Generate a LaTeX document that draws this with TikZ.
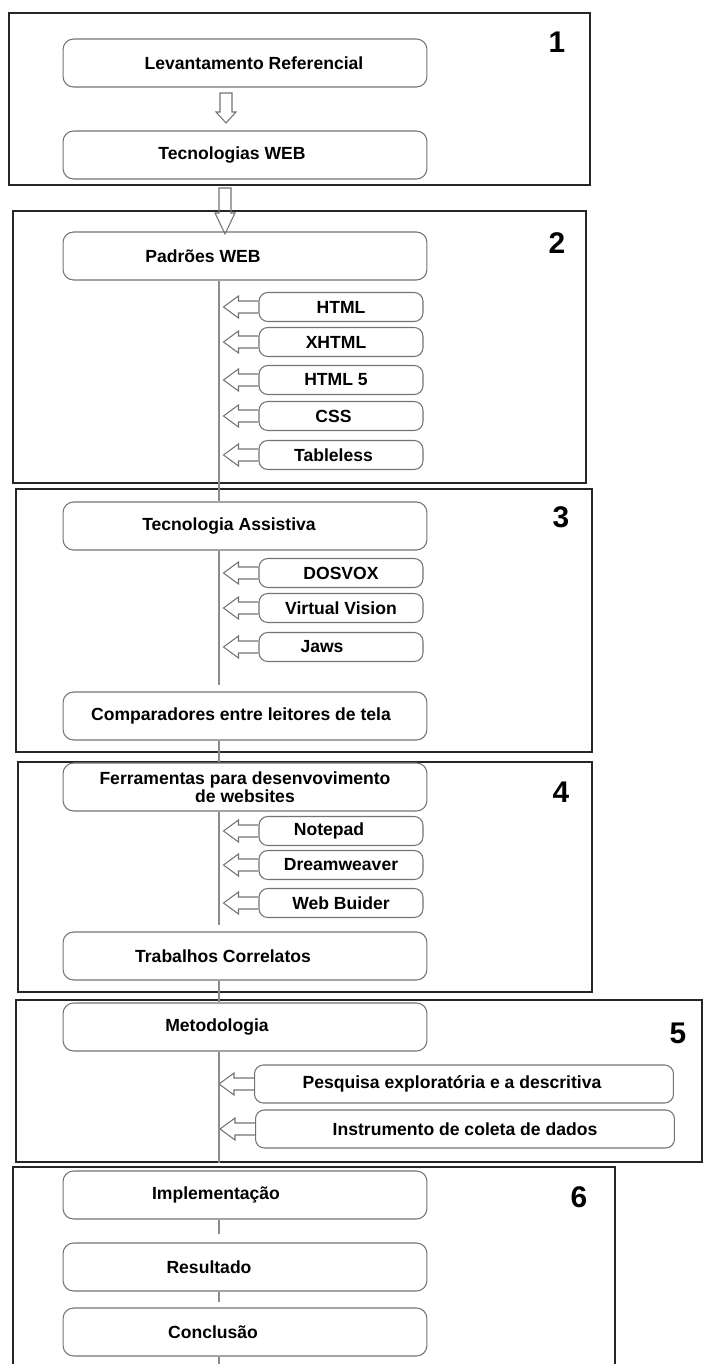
\documentclass[tikz,border=0pt]{standalone}
\usepackage{fontspec}
\setmainfont{Liberation Sans}

\tikzset{
  frame/.style={draw=black!85, line width=1.1pt},
  bigbox/.style={draw=black!55, line width=0.6pt, rounded corners=6pt, minimum width=7.28cm, minimum height=0.96cm, font=\fontsize{10}{10.5}\selectfont\bfseries},
  smallbox/.style={draw=black!55, line width=0.6pt, rounded corners=5pt, minimum width=3.28cm, minimum height=0.58cm, inner sep=0pt, font=\fontsize{10}{12}\selectfont\bfseries},
  widebox/.style={smallbox, minimum width=8.38cm, minimum height=0.76cm},
  nudge/.style={execute at begin node={\hspace*{#1}}},
  arrowline/.style={draw=black!55, line width=0.6pt, line join=miter},
  spine/.style={draw=black!45, line width=0.6pt},
  num/.style={font=\fontsize{17}{20}\selectfont\bfseries},
  pics/leftarrow/.style={code={
    \draw[arrowline] (0,-6) -- (-20,-6) -- (-20,-11) -- (-35,0) -- (-20,11) -- (-20,6) -- (0,6);
  }}
}

\begin{document}
\begin{tikzpicture}[x=0.02cm, y=-0.02cm]
    \useasboundingbox (0,0) rectangle (703,1364);
    % frames of the six steps
    \draw[frame] (9,13) rectangle (590,185);
    \draw[frame] (13,211) rectangle (586,483);
    \draw[frame] (16,489) rectangle (592,752);
    \draw[frame] (18,762) rectangle (592,992);
    \draw[frame] (16,1000) rectangle (702,1162);
    \draw[frame] (13,1364) -- (13,1167) -- (615,1167) -- (615,1364);
    \coordinate (spine) at (219,0);

    % step 1
    \node[bigbox, nudge=0.36cm] (lev) at (245,63) {Levantamento Referencial};
    \node[bigbox, nudge=-0.52cm] (tecweb) at (245,155) {Tecnologias WEB};
    \draw[arrowline, shift={(226,93)}] (-6,0) -- (-6,19) -- (-10,19) -- (0,30) -- (10,19) -- (6,19) -- (6,0) -- cycle;
    \draw[arrowline, shift={(225,188)}] (-6,0) -- (-6,25) -- (-10,25) -- (0,46) -- (10,25) -- (6,25) -- (6,0) -- cycle;
    \node[num] (n1) at (557,42) {1};

    % step 2
    \node[bigbox, nudge=-1.68cm] (padroes) at (245,256) {Padrões WEB};
    \foreach \y/\name/\txt/\dx in {307/html/HTML/0cm, 342/xhtml/XHTML/-0.2cm, 380/html5/HTML 5/-0.2cm, 416/css/CSS/-0.3cm, 455/tableless/Tableless/-0.3cm}
    {
        \node[smallbox, nudge=\dx] (\name) at (341,\y) {\txt};
        \pic at (\name.west) {leftarrow};
    }
    \node[num] (n2) at (557,243) {2};

    % step 3
    \node[bigbox, nudge=-0.64cm] (assist) at (245,526) {Tecnologia Assistiva};
    \foreach \y/\name/\txt/\dx in {573/dosvox/DOSVOX/0cm, 608/vvision/Virtual Vision/0cm, 647/jaws/Jaws/-0.76cm}
    {
        \node[smallbox, nudge=\dx] (\name) at (341,\y) {\txt};
        \pic at (\name.west) {leftarrow};
    }
    \node[bigbox, nudge=-0.16cm] (compar) at (245,716) {Comparadores entre leitores de tela};
    \node[num] (n3) at (561,517) {3};

    % step 4
    \node[bigbox, align=center] (ferram) at (245,787) {Ferramentas para desenvovimento\\de websites};
    \foreach \y/\name/\txt/\dx in {831/notepad/Notepad/-0.48cm, 865/dreamw/Dreamweaver/0cm, 903/webb/Web Buider/0cm}
    {
        \node[smallbox, nudge=\dx] (\name) at (341,\y) {\txt};
        \pic at (\name.west) {leftarrow};
    }
    \node[bigbox, nudge=-0.88cm] (trab) at (245,956) {Trabalhos Correlatos};
    \node[num] (n4) at (561,792) {4};

    % step 5
    \node[bigbox, nudge=-1.12cm] (metod) at (245,1027) {Metodologia};
    \node[widebox, nudge=-0.48cm] (pesq) at (464,1084) {Pesquisa exploratória e a descritiva};
    \pic at (pesq.west) {leftarrow};
    \node[widebox] (instr) at (465,1129) {Instrumento de coleta de dados};
    \pic at (instr.west) {leftarrow};
    \node[num] (n5) at (678,1033) {5};

    % step 6
    \node[bigbox, nudge=-1.16cm] (impl) at (245,1195) {Implementação};
    \node[bigbox, nudge=-1.44cm] (result) at (245,1267) {Resultado};
    \node[bigbox, nudge=-1.28cm] (concl) at (245,1332) {Conclusão};
    \node[num] (n6) at (579,1197) {6};

    % spine
    \coordinate (assist-end) at (219,685);
    \coordinate (ferram-end) at (219,925);
    \coordinate (metod-end) at (219,1163);
    \coordinate (concl-end) at (219,1364);
    \draw[spine] (padroes.south -| spine) -- (assist.north -| spine);
    \draw[spine] (assist.south -| spine) -- (assist-end);
    \draw[spine] (compar.south -| spine) -- (ferram.north -| spine);
    \draw[spine] (ferram.south -| spine) -- (ferram-end);
    \draw[spine] (trab.south -| spine) -- (metod.north -| spine);
    \draw[spine] (metod.south -| spine) -- (metod-end);
    \draw[spine, shorten >=0.16cm] (impl.south -| spine) -- (result.north -| spine);
    \draw[spine, shorten >=0.1cm] (result.south -| spine) -- (concl.north -| spine);
    \draw[spine] (concl.south -| spine) -- (concl-end);
\end{tikzpicture}
\end{document}
